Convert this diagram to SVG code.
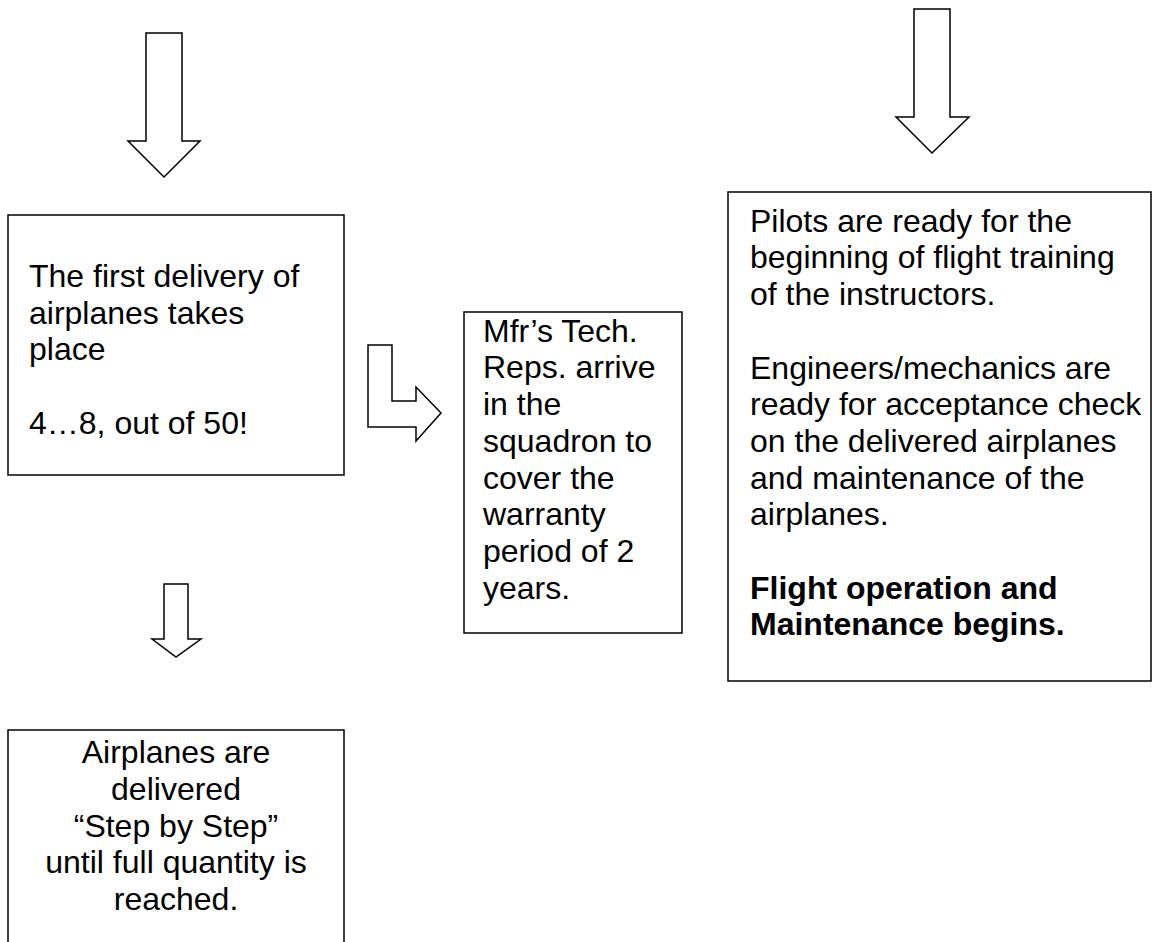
<svg xmlns="http://www.w3.org/2000/svg" width="1152" height="942" viewBox="0 0 1152 942">
  <style>
    .box { fill: #ffffff; stroke: #000000; stroke-width: 1.5; }
    .arrow { fill: #ffffff; stroke: #000000; stroke-width: 1.5; stroke-linejoin: miter; }
    .txt { font-family: "Liberation Sans", Arial, sans-serif; font-size: 32px; fill: #000000; }
    .bold { font-weight: bold; }
  </style>
  <rect width="1152" height="942" fill="#ffffff"/>

  <!-- block arrows -->
  <g id="connectors">
    <polygon class="arrow" points="146,33 182,33 182,141 200,141 164,177 128,141 146,141"/>
    <polygon class="arrow" points="914,9 950,9 950,117 969,117 932,153 896,117 914,117"/>
    <polygon class="arrow" points="164,584 188,584 188,639 201,639 176,657 152,639 164,639"/>
    <polygon class="arrow" points="368,345 392,345 392,401 416,401 416,387 441,413 416,441 416,427 368,427"/>
  </g>

  <g id="first-delivery">
    <rect class="box" x="8" y="215" width="336" height="260"/>
    <text class="txt" x="29" y="287">The first delivery of</text>
    <text class="txt" x="29" y="323.5">airplanes takes</text>
    <text class="txt" x="29" y="360">place</text>
    <text class="txt" x="29" y="433.5">4…8, out of 50!</text>
  </g>

  <g id="tech-reps">
    <rect class="box" x="464" y="312" width="218" height="321"/>
    <text class="txt" x="483" y="341.7">Mfr’s Tech.</text>
    <text class="txt" x="483" y="378.4">Reps. arrive</text>
    <text class="txt" x="483" y="415.1">in the</text>
    <text class="txt" x="483" y="451.8">squadron to</text>
    <text class="txt" x="483" y="488.5">cover the</text>
    <text class="txt" x="483" y="525.2">warranty</text>
    <text class="txt" x="483" y="561.9">period of 2</text>
    <text class="txt" x="483" y="598.6">years.</text>
  </g>

  <g id="flight-operation">
    <rect class="box" x="728" y="192" width="423" height="489"/>
    <text class="txt" x="750" y="231.7">Pilots are ready for the</text>
    <text class="txt" x="750" y="268.4">beginning of flight training</text>
    <text class="txt" x="750" y="305.1">of the instructors.</text>
    <text class="txt" x="750" y="378.5">Engineers/mechanics are</text>
    <text class="txt" x="750" y="415.2">ready for acceptance check</text>
    <text class="txt" x="750" y="451.9">on the delivered airplanes</text>
    <text class="txt" x="750" y="488.6">and maintenance of the</text>
    <text class="txt" x="750" y="525.3">airplanes.</text>
    <text class="txt bold" x="750" y="598.7">Flight operation and</text>
    <text class="txt bold" x="750" y="635.4">Maintenance begins.</text>
  </g>

  <g id="step-by-step">
    <path class="box" d="M8,950 L8,730 L344,730 L344,950"/>
    <text class="txt" x="176" y="763.3" text-anchor="middle">Airplanes are</text>
    <text class="txt" x="176" y="800" text-anchor="middle">delivered</text>
    <text class="txt" x="176" y="836.7" text-anchor="middle">“Step by Step”</text>
    <text class="txt" x="176" y="873.4" text-anchor="middle">until full quantity is</text>
    <text class="txt" x="176" y="910.1" text-anchor="middle">reached.</text>
  </g>
</svg>
